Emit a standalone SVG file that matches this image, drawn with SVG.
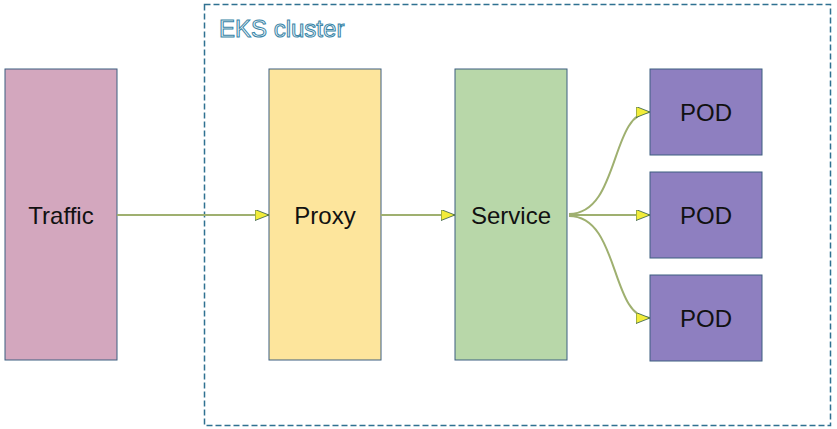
<svg xmlns="http://www.w3.org/2000/svg" width="837" height="429" viewBox="0 0 837 429">
<style>
.box{stroke:#3d5f80;stroke-width:1}
.lbl{font-family:"Liberation Sans",Arial,sans-serif;font-size:24px;fill:#111;text-anchor:middle;dominant-baseline:central}
.edge{fill:none;stroke:#9fb070;stroke-width:2}
</style>
<defs>
<marker id="arr" viewBox="0 0 14 11" refX="14" refY="5.5" markerWidth="14" markerHeight="11" markerUnits="userSpaceOnUse" orient="auto">
<path d="M0,0 L14,5.5 L0,11 Z" fill="#f2ec3a" stroke="#2f5a4a" stroke-width="0.8"/>
</marker>
</defs>
<rect width="837" height="429" fill="#fff"/>
<g id="cluster">
<rect x="204.5" y="4.5" width="626" height="421" fill="none" stroke="#2f7191" stroke-width="1.5" stroke-dasharray="6,3"/>
<text x="219" y="37" font-family="Liberation Sans,Arial,sans-serif" font-size="24" fill="#eef5f8" stroke="#3a86a8" stroke-width="1">EKS cluster</text>
</g>
<g id="traffic">
<rect class="box" x="5" y="69" width="112" height="291" fill="#d3a7be"/>
<text class="lbl" x="61" y="215">Traffic</text>
</g>
<g id="proxy">
<rect class="box" x="269" y="69" width="112" height="291" fill="#fde59c"/>
<text class="lbl" x="325" y="215">Proxy</text>
</g>
<g id="service">
<rect class="box" x="455" y="69" width="112" height="291" fill="#b8d7a9"/>
<text class="lbl" x="511" y="215">Service</text>
</g>
<g id="pod1">
<rect class="box" x="650" y="69" width="112" height="86" fill="#8e7fc0"/>
<text class="lbl" x="706" y="112">POD</text>
</g>
<g id="pod2">
<rect class="box" x="650" y="172" width="112" height="86" fill="#8e7fc0"/>
<text class="lbl" x="706" y="215">POD</text>
</g>
<g id="pod3">
<rect class="box" x="650" y="275" width="112" height="86" fill="#8e7fc0"/>
<text class="lbl" x="706" y="318">POD</text>
</g>
<g id="connectors">
<path class="edge" d="M117,215 L269,215" marker-end="url(#arr)"/>
<path class="edge" d="M381,215 L455,215" marker-end="url(#arr)"/>
<path class="edge" d="M569,214 C620,214 610,112 650,112" marker-end="url(#arr)"/>
<path class="edge" d="M569,215 L650,215" marker-end="url(#arr)"/>
<path class="edge" d="M569,216 C620,216 610,318 650,318" marker-end="url(#arr)"/>
</g>
</svg>
